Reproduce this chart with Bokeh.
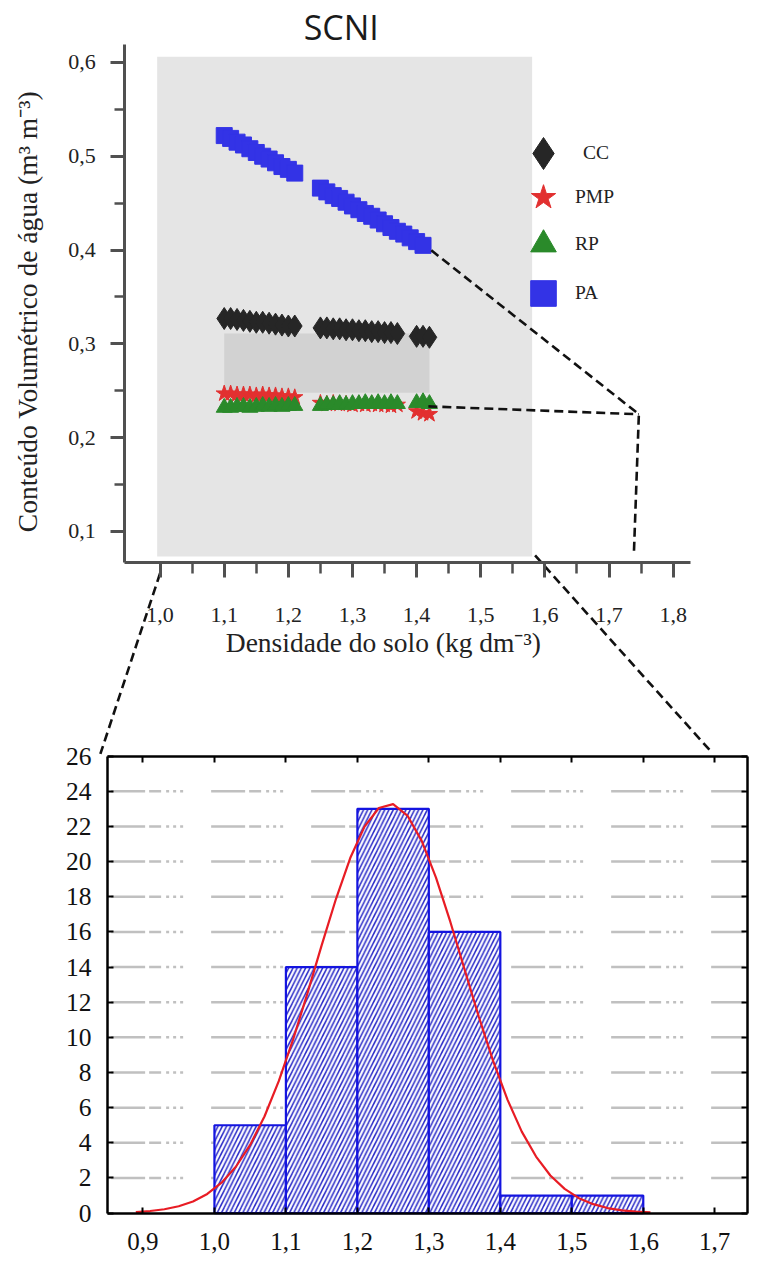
import math
from bokeh.plotting import figure
from bokeh.models import (Range1d, LinearAxis, FixedTicker, CustomJSTickFormatter,
                          Legend, LegendItem, Label, BoxAnnotation)
from bokeh.embed import file_html
from bokeh.resources import INLINE

# ---------------- data: top chart (water content vs bulk density) ----------------
cc_x = [1.10, 1.11, 1.12, 1.13, 1.14, 1.15, 1.16, 1.17, 1.18, 1.19, 1.20, 1.21,
        1.25, 1.26, 1.27, 1.28, 1.29, 1.30, 1.31, 1.32, 1.33, 1.34, 1.35, 1.36, 1.37,
        1.40, 1.41, 1.42]
cc_y = [0.327, 0.327, 0.326, 0.325, 0.324, 0.323, 0.323, 0.322, 0.321, 0.320, 0.319, 0.319,
        0.317, 0.317, 0.316, 0.316, 0.315, 0.315, 0.314, 0.314, 0.313, 0.313, 0.312, 0.312, 0.311,
        0.308, 0.308, 0.307]
pmp_x = list(cc_x)
pmp_y = [0.247, 0.247, 0.246, 0.246, 0.246, 0.245, 0.246, 0.245, 0.245, 0.244, 0.244, 0.243,
         0.237, 0.236, 0.237, 0.236, 0.236, 0.235, 0.236, 0.235, 0.236, 0.235, 0.235, 0.234, 0.235,
         0.228, 0.226, 0.225]
rp_x = list(cc_x)
rp_y = [0.232, 0.232, 0.233, 0.233, 0.232, 0.233, 0.234, 0.233, 0.234, 0.233, 0.234, 0.234,
        0.234, 0.235, 0.235, 0.236, 0.235, 0.236, 0.236, 0.237, 0.236, 0.237, 0.236, 0.237, 0.236,
        0.237, 0.238, 0.236]
pa_x = [1.10, 1.11, 1.12, 1.13, 1.14, 1.15, 1.16, 1.17, 1.18, 1.19, 1.20, 1.21,
        1.25, 1.26, 1.27, 1.28, 1.29, 1.30, 1.31, 1.32, 1.33, 1.34, 1.35, 1.36, 1.37, 1.38,
        1.39, 1.40, 1.41]
pa_y = [0.522, 0.519, 0.515, 0.512, 0.508, 0.504, 0.500, 0.497, 0.493, 0.489, 0.486, 0.482,
        0.466, 0.462, 0.458, 0.455, 0.451, 0.447, 0.443, 0.439, 0.436, 0.432, 0.428, 0.424, 0.420,
        0.417, 0.413, 0.409, 0.405]
band_left = [1.10]
band_right = [1.42]
band_top = [0.311]
band_bottom = [0.248]
series_labels = ["CC", "PMP", "RP", "PA"]
top_x_ticks = [1.0, 1.1, 1.2, 1.3, 1.4, 1.5, 1.6, 1.7, 1.8]
top_x_minor = [1.05, 1.15, 1.25, 1.35, 1.45, 1.55, 1.65, 1.75]
top_y_ticks = [0.1, 0.2, 0.3, 0.4, 0.5, 0.6]
top_y_minor = [0.15, 0.25, 0.35, 0.45, 0.55]

# ---------------- data: bottom chart (histogram of bulk density) ----------------
hist_left = [1.0, 1.1, 1.2, 1.3, 1.4, 1.5]
hist_right = [1.1, 1.2, 1.3, 1.4, 1.5, 1.6]
hist_count = [5, 14, 23, 16, 1, 1]
curve_x = [0.89, 0.91, 0.93, 0.95, 0.97, 0.99, 1.01, 1.03, 1.05, 1.07, 1.09, 1.11, 1.13,
           1.15, 1.17, 1.19, 1.21, 1.23, 1.25, 1.27, 1.29, 1.31, 1.33, 1.35, 1.37, 1.39,
           1.41, 1.43, 1.45, 1.47, 1.49, 1.51, 1.53, 1.55, 1.57, 1.59, 1.61]
curve_y = [0.06, 0.12, 0.22, 0.39, 0.66, 1.09, 1.73, 2.64, 3.88, 5.50, 7.51, 9.87, 12.49,
           15.23, 17.87, 20.20, 21.99, 23.05, 23.27, 22.62, 21.18, 19.09, 16.58, 13.86, 11.16,
           8.65, 6.46, 4.64, 3.22, 2.14, 1.38, 0.85, 0.51, 0.29, 0.16, 0.09, 0.04]
hist_x_ticks = [0.9, 1.0, 1.1, 1.2, 1.3, 1.4, 1.5, 1.6, 1.7]
hist_y_ticks = [0, 2, 4, 6, 8, 10, 12, 14, 16, 18, 20, 22, 24, 26]
hist_grid_ticks = [2, 4, 6, 8, 10, 12, 14, 16, 18, 20, 22, 24]

# ---------------- layout (reference image pixel space) ----------------
IMG_W, IMG_H = 765, 1279
W, H = 749, 1263

# top chart: pixel of x=1.0, pixels per unit; pixel of y=0.6, pixels per unit
TX0, TXP = 163.0, 655.0
TY0, TYP = 62.7, 950.0
# bottom chart: pixel of x=1.0, px/unit; pixel of y=0, px/unit
HX0, HXP = 218.5, 730.0
HY0, HYP = 1228.0, 17.8


def tx(px):
    return 1.0 + (px - TX0) / TXP


def ty(py):
    return 0.6 - (py - TY0) / TYP


def hx(px):
    return 1.0 + (px - HX0) / HXP


def hy(py):
    return (HY0 - py) / HYP


p = figure(width=W, height=H, x_range=Range1d(0, IMG_W), y_range=Range1d(IMG_H, 0),
           x_axis_location=None, y_axis_location=None, toolbar_location=None,
           output_backend="svg", min_border=0, outline_line_color=None,
           background_fill_color="white", border_fill_color="white")
p.grid.visible = False
p.extra_x_ranges = {"tx": Range1d(tx(0), tx(IMG_W)), "hx": Range1d(hx(0), hx(IMG_W))}
p.extra_y_ranges = {"ty": Range1d(ty(IMG_H), ty(0)), "hy": Range1d(hy(IMG_H), hy(0))}

comma = "return tick.toFixed(1).replace('.', ',');"
SERIF = "Liberation Serif"

# gray panel behind the top chart
p.add_layout(BoxAnnotation(left=160, right=543, top=57, bottom=563, fill_color="#e5e5e5",
                           fill_alpha=1.0, line_color=None, level="underlay"))

# ---- top chart axes ----
ax_ty = LinearAxis(x_range_name="tx", y_range_name="ty", fixed_location=tx(127),
                   bounds=(ty(569), ty(45)),
                   ticker=FixedTicker(ticks=top_y_ticks, minor_ticks=top_y_minor),
                   formatter=CustomJSTickFormatter(code=comma),
                   axis_line_color="#505050", axis_line_width=3,
                   major_tick_line_color="#505050", major_tick_line_width=3,
                   major_tick_out=14, major_tick_in=0,
                   minor_tick_line_color="#505050", minor_tick_line_width=2.5,
                   minor_tick_out=10, minor_tick_in=0,
                   major_label_standoff=15, major_label_text_font=SERIF,
                   major_label_text_font_size="22px", major_label_text_color="#222222")
p.add_layout(ax_ty, "left")

ax_tx = LinearAxis(x_range_name="tx", y_range_name="ty", fixed_location=ty(569),
                   bounds=(tx(127), tx(705)),
                   ticker=FixedTicker(ticks=top_x_ticks, minor_ticks=top_x_minor),
                   formatter=CustomJSTickFormatter(code=comma),
                   axis_line_color="#505050", axis_line_width=3,
                   major_tick_line_color="#505050", major_tick_line_width=3,
                   major_tick_out=15, major_tick_in=0,
                   minor_tick_line_color="#505050", minor_tick_line_width=2.5,
                   minor_tick_out=11, minor_tick_in=0,
                   major_label_standoff=31, major_label_text_font=SERIF,
                   major_label_text_font_size="22px", major_label_text_color="#222222")
p.add_layout(ax_tx, "below")

# band between CC and PMP
p.quad(left=band_left, right=band_right, top=band_top, bottom=band_bottom,
       x_range_name="tx", y_range_name="ty", fill_color="#d2d2d2", line_color=None)

r_cc = p.scatter(cc_x, cc_y, marker="diamond", size=22,
                 fill_color="#262626", line_color="#262626",
                 x_range_name="tx", y_range_name="ty")
r_pmp = p.scatter(pmp_x, pmp_y, marker="star", size=17, fill_color="#e23030",
                  line_color="#e23030", x_range_name="tx", y_range_name="ty")
r_rp = p.scatter(rp_x, rp_y, marker="triangle", size=16, fill_color="#2a8a2a",
                 line_color="#2a8a2a", x_range_name="tx", y_range_name="ty")
r_pa = p.scatter(pa_x, pa_y, marker="square", size=16, fill_color="#3333e6",
                 line_color="#3333e6", x_range_name="tx", y_range_name="ty")

# one legend block per series, so that the icon size and the row pitch both match
legend_specs = [(r_cc, 80, 503, 1070), (r_pmp, 64, 511, 1034),
                (r_rp, 64, 511, 987), (r_pa, 64, 511, 938)]
for label, (rend, gsize, lx, ly) in zip(series_labels, legend_specs):
    p.add_layout(Legend(items=[LegendItem(label=label, renderers=[rend])],
                        location=(lx, ly), orientation="vertical",
                        glyph_width=gsize, glyph_height=gsize, spacing=0, label_standoff=0,
                        padding=0, margin=0, border_line_color=None,
                        background_fill_alpha=0,
                        label_text_font=SERIF, label_text_font_size="19.5px",
                        label_text_color="#222222"))

# axis titles and chart title
p.add_layout(Label(x=348, y=27, text="SCNI", text_font="Open Sans", text_font_size="34px",
                   text_align="center", text_baseline="middle", text_color="#1a1a1a"))
p.add_layout(Label(x=28, y=315, text="Conteúdo Volumétrico de água (m³ m⁻³)",
                   angle=math.pi / 2, text_font=SERIF, text_font_size="27.5px",
                   text_align="center", text_baseline="middle", text_color="#222222"))
p.add_layout(Label(x=391, y=650, text="Densidade do solo (kg dm⁻³)",
                   text_font=SERIF, text_font_size="27.5px",
                   text_align="center", text_baseline="middle", text_color="#222222"))

# ---- bottom chart ----
n_grid = len(hist_grid_ticks)
p.segment(x0=[hx(113)] * n_grid, x1=[hx(760)] * n_grid, y0=hist_grid_ticks, y1=hist_grid_ticks,
          x_range_name="hx", y_range_name="hy", line_color="#c0c0c0", line_width=2.5,
          line_dash="34 4 12 5 3 4 3 4 3 28")

p.quad(left=hist_left, right=hist_right, top=hist_count, bottom=0,
       x_range_name="hx", y_range_name="hy", fill_color="white",
       line_color="#1414e0", line_width=2.2,
       hatch_pattern="/", hatch_color="#2a2ac8", hatch_scale=8.5, hatch_weight=1.5)
p.line(curve_x, curve_y, x_range_name="hx", y_range_name="hy",
       line_color="#e81c24", line_width=2.2)

common = dict(x_range_name="hx", y_range_name="hy", axis_line_color="black",
              axis_line_width=2.5, major_tick_line_color="black", major_tick_line_width=2,
              major_tick_in=6, major_tick_out=0, minor_tick_in=0, minor_tick_out=0,
              major_label_text_font=SERIF, major_label_text_color="#111111")
ax_hl = LinearAxis(fixed_location=hx(109.3), bounds=(0, 26),
                   ticker=FixedTicker(ticks=hist_y_ticks, minor_ticks=[]),
                   major_label_standoff=16, major_label_text_font_size="25.5px", **common)
p.add_layout(ax_hl, "left")
ax_hr = LinearAxis(fixed_location=hx(763), bounds=(0, 26),
                   ticker=FixedTicker(ticks=hist_y_ticks, minor_ticks=[]),
                   formatter=CustomJSTickFormatter(code="return '';"),
                   major_label_text_font_size="10px", **common)
p.add_layout(ax_hr, "right")
ax_hb = LinearAxis(fixed_location=0, bounds=(hx(109.3), hx(763)),
                   ticker=FixedTicker(ticks=hist_x_ticks, minor_ticks=[]),
                   formatter=CustomJSTickFormatter(code=comma),
                   major_label_standoff=20, major_label_text_font_size="25px", **common)
p.add_layout(ax_hb, "below")
ax_ht = LinearAxis(fixed_location=26, bounds=(hx(109.3), hx(763)),
                   ticker=FixedTicker(ticks=hist_x_ticks, minor_ticks=[]),
                   formatter=CustomJSTickFormatter(code="return '';"),
                   major_label_text_font_size="10px", **common)
p.add_layout(ax_ht, "above")

# dashed connectors (reference pixel space)
conn_xs = [[440, 652, 647], [437, 652], [163, 102], [546, 727]]
conn_ys = [[253, 419, 558], [411, 419], [580, 763], [562, 762]]
p.multi_line(xs=conn_xs, ys=conn_ys, line_color="#111111", line_width=2.6, line_dash="9 5")

open("out.html", "w").write(file_html(p, INLINE))
